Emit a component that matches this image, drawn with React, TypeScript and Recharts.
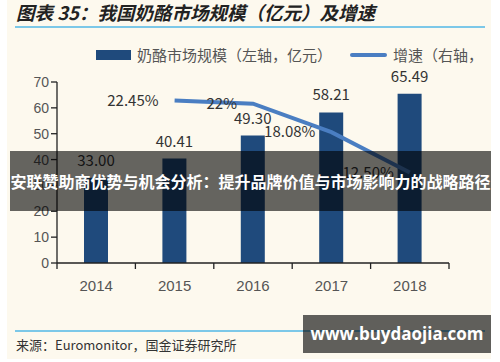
import React from "react";
import {
  ComposedChart,
  Bar,
  Line,
  XAxis,
  YAxis,
  LabelList,
} from "recharts";

const YEARS = ["2014", "2015", "2016", "2017", "2018"];
const MARKET_SIZE = [33.0, 40.41, 49.3, 58.21, 65.49];
const GROWTH = [null, 22.45, 22.0, 18.08, 12.5];
const GROWTH_LABELS = ["", "22.45%", "22%", "18.08%", "12.50%"];
const LEFT_TICKS = [0, 10, 20, 30, 40, 50, 60, 70];

const data = YEARS.map((year, i) => ({
  year,
  size: MARKET_SIZE[i],
  growth: GROWTH[i],
  growthLabel: GROWTH_LABELS[i],
}));

const CJK = "'Noto Sans CJK SC', 'Noto Sans', sans-serif";
const SANS = "'Liberation Sans', Arial, sans-serif";

const PLOT_LEFT = 57;
const PLOT_RIGHT = 449;
const BAND_HALF = (PLOT_RIGHT - PLOT_LEFT) / YEARS.length / 2;

function YearTick(props: any) {
  const { x, y, payload, index } = props;
  return (
    <g>
      <line x1={x - BAND_HALF} y1={y - 8} x2={x - BAND_HALF} y2={y - 2} stroke="#222" strokeWidth={1.3} />
      {index === YEARS.length - 1 && (
        <line x1={x + BAND_HALF} y1={y - 8} x2={x + BAND_HALF} y2={y - 2} stroke="#222" strokeWidth={1.3} />
      )}
      <text x={x} y={y + 20} textAnchor="middle" fill="#555" fontSize={15} fontFamily={SANS}>
        {payload.value}
      </text>
    </g>
  );
}

export default function App() {
  return (
    <div
      style={{
        position: "absolute",
        left: 0,
        top: 0,
        width: 500,
        height: 362,
        background: "#fff",
        overflow: "hidden",
      }}
    >
      <div
        style={{
          position: "absolute",
          left: 7,
          top: 0,
          width: 484,
          height: 359,
          background: "#fdf9ee",
        }}
      />
      {/* title */}
      <div
        style={{
          position: "absolute",
          left: 16,
          top: -1,
          fontFamily: CJK,
          fontStyle: "italic",
          fontWeight: 700,
          fontSize: 18.5,
          color: "#222",
          lineHeight: "26px",
          whiteSpace: "nowrap",
        }}
      >
        图表 35：我国奶酪市场规模（亿元）及增速
      </div>
      <div style={{ position: "absolute", left: 15, top: 26, width: 470, height: 2, background: "#7cc8e8" }} />

      {/* legend */}
      <div style={{ position: "absolute", left: 96, top: 50, width: 35, height: 10, background: "#1f4a7c" }} />
      <div
        style={{
          position: "absolute",
          left: 137,
          top: 44,
          fontFamily: CJK,
          fontSize: 15,
          color: "#555",
          lineHeight: "22px",
          whiteSpace: "nowrap",
        }}
      >
        奶酪市场规模（左轴，亿元）
      </div>
      <div style={{ position: "absolute", left: 350, top: 53, width: 37, height: 4, background: "#4a7ec2", borderRadius: 2 }} />
      <div
        style={{
          position: "absolute",
          left: 393,
          top: 44,
          fontFamily: CJK,
          fontSize: 15,
          color: "#555",
          lineHeight: "22px",
          whiteSpace: "nowrap",
        }}
      >
        增速（右轴，
      </div>

      <div style={{ position: "absolute", left: 0, top: 0 }}>
        <ComposedChart
          width={500}
          height={362}
          data={data}
          margin={{ top: 82, right: 500 - PLOT_RIGHT, bottom: 69, left: 17 }}
        >
          <XAxis
            dataKey="year"
            height={30}
            axisLine={{ stroke: "#222", strokeWidth: 1.3 }}
            tickLine={false}
            tick={<YearTick />}
            interval={0}
          />
          <YAxis
            yAxisId="left"
            width={40}
            domain={[0, 70]}
            ticks={LEFT_TICKS}
            axisLine={{ stroke: "#222", strokeWidth: 1.3 }}
            tickLine={{ stroke: "#222", strokeWidth: 1.3 }}
            tickSize={6}
            tick={{ fill: "#555", fontSize: 14, fontFamily: SANS }}
          />
          <YAxis yAxisId="right" orientation="right" hide domain={[0, 25]} />
          <Bar yAxisId="left" dataKey="size" fill="#1f4a7c" barSize={24} isAnimationActive={false}>
            <LabelList
              dataKey="size"
              position="top"
              offset={12}
              formatter={(v: any) => Number(v).toFixed(2)}
              style={{ fill: "#333", fontSize: 15, fontFamily: CJK }}
            />
          </Bar>
          <Line
            yAxisId="right"
            dataKey="growth"
            stroke="#4a7ec2"
            strokeWidth={4}
            dot={false}
            activeDot={false}
            isAnimationActive={false}
            connectNulls={false}
          >
            <LabelList
              dataKey="growthLabel"
              position="left"
              offset={16}
              style={{ fill: "#333", fontSize: 15, fontFamily: CJK }}
            />
          </Line>
        </ComposedChart>
      </div>

      {/* source */}
      <div style={{ position: "absolute", left: 15, top: 330, width: 470, height: 2, background: "#7cc8e8" }} />
      <div
        style={{
          position: "absolute",
          left: 16,
          top: 335,
          fontFamily: CJK,
          fontSize: 13,
          color: "#333",
          lineHeight: "20px",
          whiteSpace: "nowrap",
        }}
      >
        来源：Euromonitor，国金证券研究所
      </div>

      {/* overlay banner */}
      <div
        style={{
          position: "absolute",
          left: 10,
          top: 151,
          width: 481,
          height: 60,
          background: "rgba(0,0,0,0.6)",
          color: "#fff",
          fontFamily: CJK,
          fontWeight: 700,
          fontSize: 16,
          lineHeight: "60px",
          textAlign: "center",
          whiteSpace: "nowrap",
        }}
      >
        安联赞助商优势与机会分析：提升品牌价值与市场影响力的战略路径
      </div>

      {/* watermark */}
      <div
        style={{
          position: "absolute",
          left: 303,
          top: 315,
          width: 188,
          height: 38,
          background: "rgba(0,0,0,0.62)",
          color: "#fff",
          fontFamily: "'Open Sans', 'DejaVu Sans', sans-serif",
          fontWeight: 700,
          fontSize: 17,
          lineHeight: "38px",
          textAlign: "center",
          whiteSpace: "nowrap",
        }}
      >
        www.buydaojia.com
      </div>
    </div>
  );
}
